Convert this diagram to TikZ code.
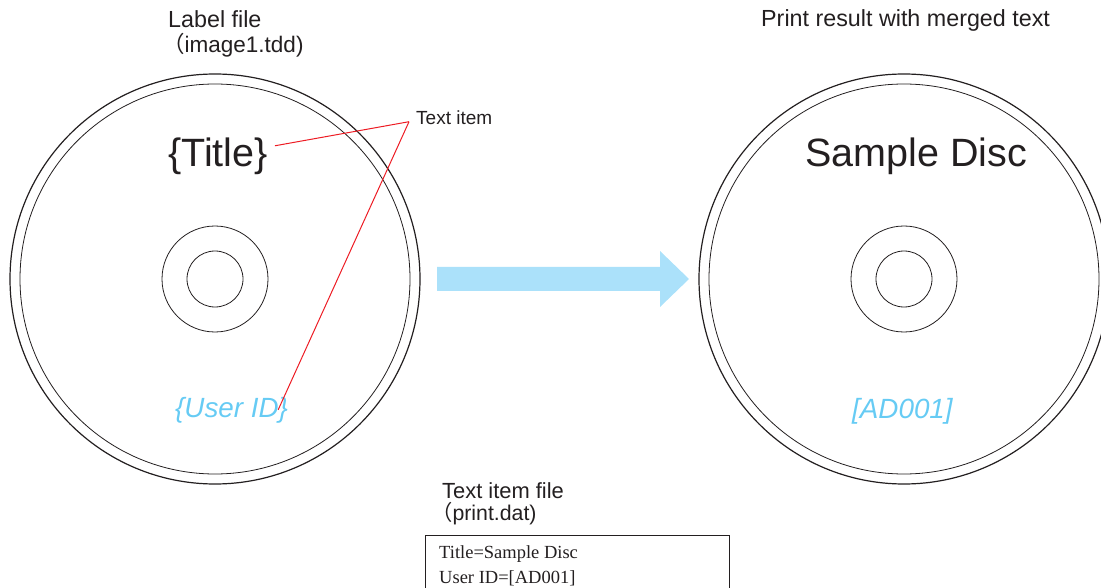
\documentclass[tikz,border=0pt]{standalone}
\usepackage{fontspec}
\setmainfont{Liberation Sans}
\newfontfamily\serifdat{Liberation Serif}
\newfontfamily\cjk{Noto Sans CJK JP}
\usepackage{xcolor}
\definecolor{ink1}{RGB}{35,31,32}
\definecolor{cyan1}{RGB}{102,203,244}
\definecolor{blue1}{RGB}{171,225,250}
\definecolor{red1}{RGB}{237,28,36}

\begin{document}
\begin{tikzpicture}[x=1pt, y=-1pt, every node/.style={inner sep=0pt, text=ink1},
    caption/.style={anchor=base west, font=\fontsize{23.3}{25}\selectfont},
    bigtext/.style={anchor=base west, font=\fontsize{39.5}{42}\selectfont},
    idtext/.style={anchor=base west, text=cyan1, font=\fontsize{27.8}{30}\selectfont\itshape},
    rim/.style={circle, draw=ink1, line width=1.2pt},
    ring/.style={circle, draw=ink1, line width=0.8pt},
    callout/.style={draw=red1, line width=1pt}]
    \useasboundingbox (0,0) rectangle (1101,588);

    % the two discs
    \foreach \cx/\nm in {215/left, 904/right} {
        \node[rim, minimum size=410pt] (disc\nm) at (\cx,279) {};
        \node[ring, minimum size=390pt] (rim\nm) at (\cx,279) {};
        \node[ring, minimum size=106pt] (hub\nm) at (\cx,279) {};
        \node[ring, minimum size=56pt] (hole\nm) at (\cx,279) {};
    }

    % label file
    \node[caption] (lblfile) at (168,28) {Label file};
    \node[caption, font=\fontsize{22.5}{25}\selectfont] (lblname) at (162,53) {{\cjk （}image1.tdd)};
    \node[bigtext] (title) at (168,167) {\{Title\}};
    \node[idtext] (uid) at (175,417) {\{User ID\}};
    \node[anchor=base west, font=\fontsize{19}{21}\selectfont] (titem) at (416,125) {Text item};
    \draw[callout] ([shift={(-7,3.5)}]titem.west) -- ([shift={(7,-11)}]title.east);
    \draw[callout] ([shift={(-7,3.5)}]titem.west) -- ([shift={(-10,0)}]uid.east);

    % merge arrow
    \fill[blue1] (437,267) -- (660,267) -- (660,251) -- (689,279) -- (660,307) -- (660,291) -- (437,291) -- cycle;

    % print result
    \node[caption] (result) at (761,27) {Print result with merged text};
    \node[bigtext] (merged) at (805,167) {Sample Disc};
    \node[idtext] (mergedid) at (852,418) {[AD001]};

    % text item file
    \node[caption, font=\fontsize{21.9}{24}\selectfont] (datfile) at (442,498) {Text item file};
    \node[caption, font=\fontsize{21.3}{24}\selectfont] (datname) at (431,520) {{\cjk （}print.dat)};
    \node[draw=ink1, line width=0.9pt, anchor=north west, minimum width=304pt, minimum height=70pt] (datbox) at (425,535) {};
    \node[anchor=base west, font=\serifdat\fontsize{18.5}{20}\selectfont] (datline1) at (439,558) {Title=Sample Disc};
    \node[anchor=base west, font=\serifdat\fontsize{18.5}{20}\selectfont] (datline2) at (439,583) {User ID=[AD001]};
\end{tikzpicture}
\end{document}
